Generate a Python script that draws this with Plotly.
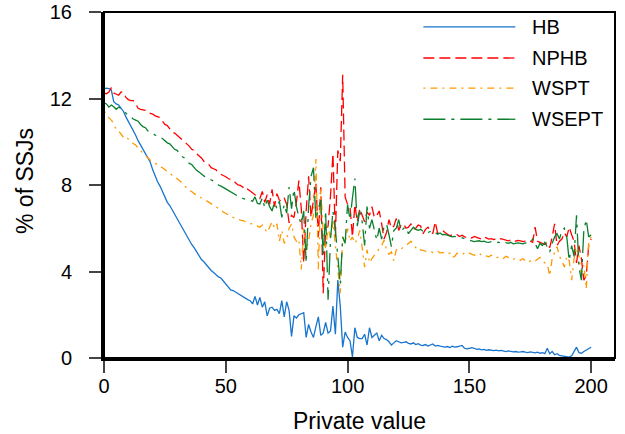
import plotly.graph_objects as go

# Private values 0..200
private_value = list(range(201))

hb = [
    12.45, 12.48, 12.46, 12.40, 11.85, 11.75, 11.70, 11.55, 11.40, 11.15,
    10.95, 10.75, 10.50, 10.30, 10.05, 9.85, 9.60, 9.40, 9.20, 9.05,
    8.70, 8.40, 8.15, 7.95, 7.70, 7.45, 7.20, 7.05, 6.85, 6.60,
    6.45, 6.25, 6.00, 5.80, 5.65, 5.45, 5.25, 5.10, 4.90, 4.70,
    4.55, 4.45, 4.30, 4.15, 4.05, 3.95, 3.85, 3.75, 3.70, 3.55,
    3.40, 3.25, 3.15, 3.12, 3.05, 2.95, 2.90, 2.82, 2.75, 2.70,
    2.65, 2.50, 2.85, 2.45, 2.80, 2.35, 2.60, 1.95, 2.30, 2.35,
    2.20, 2.25, 2.05, 2.65, 1.90, 2.60, 2.20, 1.00, 1.95, 1.85,
    2.00, 2.05, 2.10, 0.95, 1.55, 1.20, 0.95, 1.45, 1.90, 1.05,
    1.15, 1.65, 1.15, 1.25, 2.40, 1.10, 3.60, 2.40, 0.50, 1.20,
    0.95, 0.80, 0.05, 1.40, 0.95, 0.90, 0.90, 1.10, 0.60, 1.40,
    0.95, 1.05, 1.15, 0.80, 1.05, 0.90, 0.85, 0.75, 0.60, 0.70,
    0.80, 0.75, 0.70, 0.72, 0.75, 0.68, 0.65, 0.70, 0.62, 0.66,
    0.60, 0.58, 0.62, 0.55, 0.60, 0.65, 0.55, 0.58, 0.55, 0.52,
    0.50, 0.53, 0.48, 0.55, 0.50, 0.52, 0.55, 0.58, 0.45, 0.42,
    0.45, 0.48, 0.45, 0.40, 0.42, 0.38, 0.40, 0.35, 0.38, 0.36,
    0.34, 0.36, 0.33, 0.35, 0.32, 0.30, 0.33, 0.30, 0.28, 0.30,
    0.27, 0.28, 0.30, 0.27, 0.25, 0.28, 0.26, 0.24, 0.27, 0.22,
    0.25, 0.20, 0.45, 0.20, 0.30, 0.15, 0.20, 0.12, 0.10, 0.08,
    0.05, 0.04, 0.10, 0.30, 0.50, 0.25, 0.22, 0.30, 0.38, 0.45,
    0.50,
]

nphb = [
    12.25, 12.22, 12.30, 12.50, 12.25, 12.20, 12.15, 12.30, 12.28, 12.05,
    11.95, 11.90, 11.90, 11.75, 11.55, 11.50, 11.48, 11.45, 11.35, 11.32,
    11.28, 11.20, 11.15, 11.12, 10.95, 10.80, 10.75, 10.60, 10.45, 10.40,
    10.30, 10.22, 10.10, 10.00, 9.90, 9.80, 9.65, 9.60, 9.45, 9.35,
    9.25, 9.10, 9.00, 8.95, 8.80, 8.75, 8.70, 8.55, 8.50, 8.42,
    8.38, 8.30, 8.25, 8.22, 8.10, 8.00, 7.98, 7.90, 7.95, 7.80,
    7.72, 7.62, 7.55, 7.50, 7.38, 7.70, 7.20, 7.55, 7.10, 7.80,
    7.00, 7.60, 7.30, 7.25, 7.40, 7.10, 6.25, 6.60, 6.50, 7.20,
    8.20, 6.90, 4.40, 6.80, 8.40, 6.50, 7.40, 8.10, 5.60, 7.90,
    3.00, 6.00, 6.10, 7.50, 9.45, 5.60, 9.60, 9.10, 13.10, 7.45,
    7.10, 7.00, 5.60, 7.10, 6.30, 6.90, 6.60, 6.30, 6.75, 6.60,
    7.00, 6.50, 6.60, 6.80, 6.20, 5.50, 5.80, 6.40, 6.00, 6.10,
    6.45, 5.90, 6.15, 6.20, 6.00, 6.05, 6.20, 5.95, 6.00, 6.15,
    6.10, 5.75, 5.95, 6.05, 5.90, 5.75, 6.30, 5.75, 5.85, 5.90,
    5.80, 5.72, 5.65, 5.70, 5.65, 5.70, 5.62, 5.68, 5.60, 5.58,
    5.60, 5.55, 5.62, 5.58, 5.55, 5.50, 5.60, 5.55, 5.50, 5.52,
    5.48, 5.50, 5.45, 5.52, 5.48, 5.45, 5.42, 5.45, 5.48, 5.40,
    5.44, 5.42, 5.38, 5.40, 5.36, 5.40, 5.35, 6.05, 5.40, 5.35,
    5.30, 5.25, 5.35, 5.10, 5.60, 6.20, 5.20, 5.40, 5.50, 5.80,
    5.60, 6.05, 5.70, 5.40, 4.40, 5.20, 4.60, 3.60, 3.80, 5.20,
    5.50,
]

wspt = [
    11.40, 11.30, 11.10, 11.00, 10.85, 10.55, 10.50, 10.35, 10.20, 10.25,
    10.10, 10.00, 9.92, 9.85, 9.70, 9.58, 9.50, 9.35, 9.25, 9.15,
    9.10, 9.00, 8.95, 8.85, 8.80, 8.70, 8.62, 8.55, 8.45, 8.40,
    8.30, 8.20, 8.10, 7.95, 7.88, 7.75, 7.70, 7.60, 7.52, 7.45,
    7.40, 7.35, 7.28, 7.20, 7.15, 7.05, 6.98, 6.92, 6.85, 6.75,
    6.68, 6.60, 6.55, 6.50, 6.45, 6.40, 6.38, 6.35, 6.30, 6.28,
    6.22, 6.20, 6.15, 6.10, 6.05, 6.15, 5.98, 5.80, 6.05, 6.30,
    6.00, 6.20, 5.40, 5.90, 5.30, 5.50, 6.00, 6.20, 5.60, 5.40,
    5.50, 4.10, 6.00, 5.00, 5.40, 6.20, 6.60, 9.20, 4.10, 7.80,
    5.80, 5.00, 6.10, 5.50, 6.30, 5.10, 4.00, 3.00, 5.60, 5.30,
    6.00, 5.40, 5.60, 5.30, 5.50, 5.90, 5.10, 4.20, 5.00, 4.40,
    4.60, 4.75, 4.90, 5.10, 5.20, 5.45, 5.00, 4.80, 4.90, 4.50,
    5.00, 5.10, 5.05, 5.13, 5.20, 5.30, 5.40, 5.25, 5.10, 5.15,
    5.00, 4.98, 4.95, 4.90, 4.92, 4.88, 4.90, 4.95, 4.85, 4.88,
    4.83, 4.80, 4.85, 4.65, 4.70, 4.85, 4.80, 4.78, 4.85, 4.90,
    4.85, 4.80, 4.75, 4.82, 4.85, 4.75, 4.70, 4.72, 4.68, 4.75,
    4.70, 4.62, 4.68, 4.66, 4.60, 4.70, 4.65, 4.60, 4.55, 4.62,
    4.58, 4.52, 4.60, 4.48, 4.42, 4.50, 4.55, 4.48, 4.55, 4.65,
    4.50, 4.40, 4.35, 3.80, 4.60, 4.85, 5.15, 4.70, 4.50, 4.20,
    4.70, 4.50, 3.60, 4.60, 5.10, 4.70, 3.90, 4.30, 3.20, 5.40,
    5.60,
]

wsept = [
    11.80, 11.75, 11.60, 11.70, 11.62, 11.50, 11.60, 11.55, 11.45, 11.30,
    11.20, 11.15, 11.05, 11.00, 10.95, 10.80, 10.70, 10.65, 10.50, 10.45,
    10.40, 10.30, 10.28, 10.20, 10.15, 10.05, 9.95, 9.90, 9.75, 9.65,
    9.60, 9.45, 9.32, 9.25, 9.10, 9.00, 8.95, 8.80, 8.68, 8.60,
    8.50, 8.42, 8.35, 8.30, 8.25, 8.18, 8.10, 8.00, 7.95, 7.90,
    7.82, 7.75, 7.68, 7.60, 7.55, 7.50, 7.42, 7.38, 7.35, 7.30,
    7.28, 7.25, 7.45, 7.15, 7.12, 7.40, 6.95, 7.30, 7.00, 6.80,
    7.20, 6.90, 7.25, 6.50, 7.10, 6.70, 7.90, 6.90, 7.80, 7.00,
    6.50, 6.20, 6.80, 4.40, 7.00, 8.40, 8.80, 6.40, 6.90, 7.30,
    4.70, 6.80, 2.70, 5.50, 6.80, 5.90, 4.70, 3.40, 5.60, 5.30,
    7.10, 6.40, 7.40, 8.30, 6.10, 6.80, 6.30, 5.20, 7.00, 6.00,
    6.40, 5.90, 5.45, 6.00, 5.50, 6.10, 6.20, 5.70, 5.15, 5.90,
    6.00, 6.40, 5.85, 6.00, 6.05, 5.75, 5.90, 6.05, 5.95, 5.90,
    5.95, 5.85, 5.88, 5.80, 5.85, 5.75, 5.80, 5.72, 5.78, 5.70,
    5.72, 5.68, 5.65, 5.60, 5.62, 5.58, 5.60, 5.55, 5.50, 5.48,
    5.45, 5.42, 5.38, 5.40, 5.42, 5.38, 5.40, 5.36, 5.35, 5.38,
    5.35, 5.32, 5.36, 5.30, 5.28, 5.33, 5.30, 5.35, 5.28, 5.30,
    5.32, 5.30, 5.28, 5.32, 5.30, 5.35, 5.50, 5.30, 5.05, 5.30,
    5.20, 5.35, 5.10, 4.90, 5.30, 5.60, 5.75, 5.50, 5.90, 6.00,
    5.60, 4.50, 5.20, 4.70, 6.60, 4.20, 3.60, 5.90, 6.40, 5.60,
    5.70,
]

series_names = ["HB", "NPHB", "WSPT", "WSEPT"]
series_values = [hb, nphb, wspt, wsept]
colors = ["#1874CD", "#FF0000", "#FF9900", "#0A7F2E"]
dashes = ["solid", "11px,5px", "2px,5px,7px,5px", "22px,6px,3px,6px"]

FONT = "Liberation Sans, Arial, Helvetica, sans-serif"

fig = go.Figure()
for name, vals, col, dash in zip(series_names, series_values, colors, dashes):
    fig.add_trace(go.Scatter(
        x=private_value, y=vals, mode="lines", name=name,
        line=dict(color=col, width=1.3, dash=dash),
        showlegend=False,
    ))

# Legend with long line samples, drawn in the upper right of the panel
leg_x0, leg_x1, leg_tx = 0.625, 0.805, 0.834
leg_rows = [0.957, 0.867, 0.780, 0.690]
shapes = []
annotations = []
for name, col, dash, yy in zip(series_names, colors, dashes, leg_rows):
    shapes.append(dict(type="line", xref="paper", yref="paper",
                       x0=leg_x0, x1=leg_x1, y0=yy, y1=yy,
                       line=dict(color=col, width=1.3, dash=dash)))
    annotations.append(dict(xref="paper", yref="paper", x=leg_tx, y=yy,
                            text=name, showarrow=False, xanchor="left",
                            yanchor="middle",
                            font=dict(family=FONT, size=20, color="black")))

# Vertical axis title, placed left of the tick labels
annotations.append(dict(xref="paper", yref="paper", x=0, y=0.5,
                        xshift=-79, yshift=4, textangle=-90,
                        text="% of SSJs", showarrow=False,
                        xanchor="center", yanchor="middle",
                        font=dict(family=FONT, size=23, color="black")))

# Plot frame (top/right thinner than the main axes)
shapes.append(dict(type="rect", xref="paper", yref="paper", x0=0, x1=1, y0=0, y1=1,
                   line=dict(color="black", width=2), layer="above"))

fig.update_layout(
    width=625, height=434,
    margin=dict(l=104, r=10, t=12, b=76),
    paper_bgcolor="white", plot_bgcolor="white",
    font=dict(family=FONT, size=20, color="black"),
    shapes=shapes, annotations=annotations,
    xaxis=dict(
        range=[0, 209.8], tickvals=[0, 50, 100, 150, 200],
        automargin=False,
        showgrid=False, zeroline=False,
        showline=True, linecolor="black", linewidth=3,
        ticks="outside", ticklen=12, tickwidth=1.5, tickcolor="#444",
        ticklabelstandoff=-4,
        tickfont=dict(family=FONT, size=20, color="black"),
        title=dict(text="Private value", standoff=25,
                   font=dict(family=FONT, size=23, color="black")),
    ),
    yaxis=dict(
        range=[0, 16], tickvals=[0, 4, 8, 12, 16],
        automargin=False,
        showgrid=False, zeroline=False,
        showline=True, linecolor="black", linewidth=3,
        ticks="outside", ticklen=12, tickwidth=1.5, tickcolor="#444",
        ticklabelstandoff=13,
        tickfont=dict(family=FONT, size=20, color="black"),
    ),
)

fig.write_html("out.html")
